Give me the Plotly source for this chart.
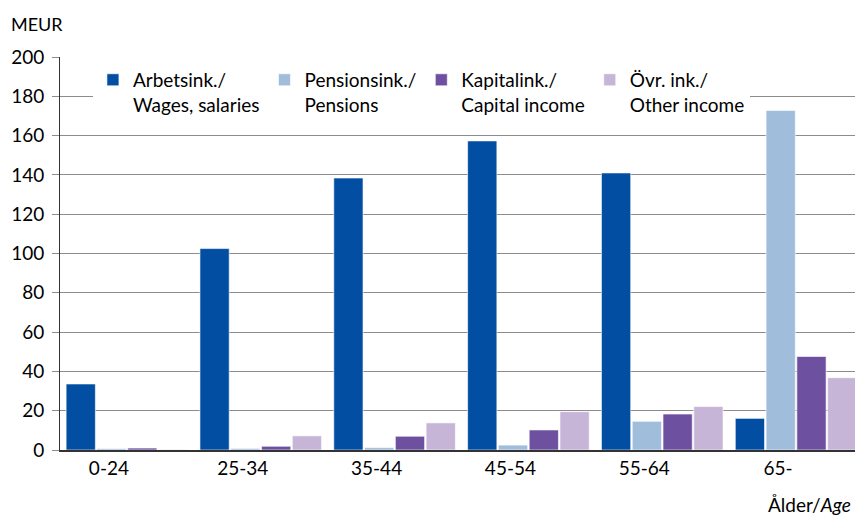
import plotly.graph_objects as go

categories = ["0-24", "25-34", "35-44", "45-54", "55-64", "65-"]
wages = [33.6, 102.5, 138.4, 157.3, 141.0, 16.1]
pensions = [0.7, 0.8, 1.2, 2.5, 14.6, 172.8]
capital = [1.0, 1.9, 7.0, 10.2, 18.3, 47.6]
other = [0.2, 7.2, 13.8, 19.5, 22.1, 36.8]
series_names = ["Arbetsink./<br>Wages, salaries", "Pensionsink./<br>Pensions",
                "Kapitalink./<br>Capital income", "Övr. ink./<br>Other income"]
colors = ["#024ea2", "#a0bddc", "#6e50a0", "#c6b5d7"]
y_ticks = list(range(0, 201, 20))

FONT = "Lato"
FS = 19
fig = go.Figure()
for name, vals, col in zip(series_names, [wages, pensions, capital, other], colors):
    fig.add_trace(go.Bar(x=categories, y=vals, name=name,
                         marker=dict(color=col, line=dict(color="rgba(255,255,255,0.6)", width=1))))

# page body has an 8px margin, so the figure is offset by 8px right and down
fig.update_layout(
    width=855, height=515,
    margin=dict(l=52, r=0, t=49, b=73),
    paper_bgcolor="white", plot_bgcolor="white",
    font=dict(family=FONT, size=FS, color="#000"),
    barmode="group", bargap=0.08, bargroupgap=0.05,
    showlegend=True,
    legend=dict(orientation="h", x=0.041, y=0.99, xanchor="left", yanchor="top",
                bgcolor="white", font=dict(family=FONT, size=FS, color="#000"),
                valign="top", traceorder="normal", itemwidth=30),
    xaxis=dict(showgrid=False, showline=True, linecolor="#333", linewidth=1.5,
               ticks="", tickfont=dict(size=FS), ticklabelshift=-18),
    yaxis=dict(range=[0, 200], tickvals=y_ticks, showgrid=True, gridcolor="#8c8c8c",
               gridwidth=1, showline=True, linecolor="#333", linewidth=1,
               ticks="outside", ticklen=7, tickcolor="#8c8c8c", zeroline=False,
               tickfont=dict(size=FS), ticklabelstandoff=4),
    annotations=[
        dict(text="MEUR", xref="paper", yref="paper", x=-0.064, y=1.05, xanchor="left",
             yanchor="bottom", showarrow=False, font=dict(size=FS - 1)),
        dict(text="Ålder/<i>Age</i>", xref="paper", yref="paper", x=0.987, y=-0.172,
             xanchor="right", yanchor="bottom", showarrow=False, font=dict(size=FS)),
    ],
)
fig.write_html("out.html")
